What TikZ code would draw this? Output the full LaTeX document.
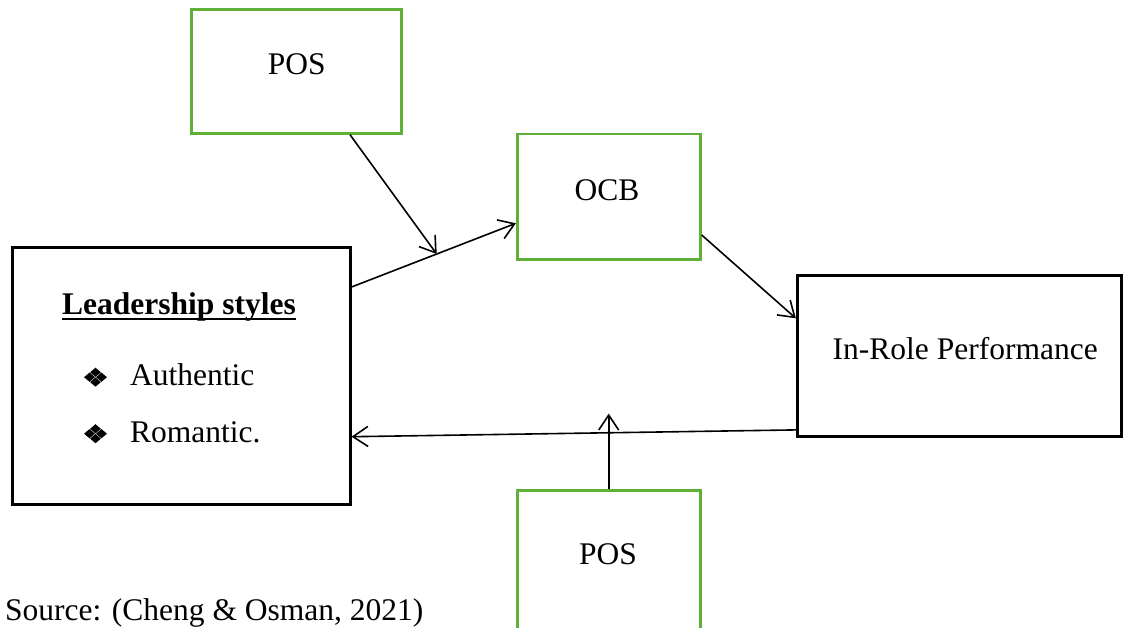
\documentclass[tikz,border=0pt]{standalone}
\usepackage{fontspec}
\setmainfont{Liberation Serif}
\usetikzlibrary{arrows.meta,calc}
\definecolor{boxgreen}{RGB}{94,177,54}
\newcommand\onedia[2]{\fill (#1-5.4,#2) -- (#1,#2-4.6) -- (#1+5.4,#2) -- (#1,#2+4.6) -- cycle;}
\newcommand\fourdia{\onedia{0}{-4.9}\onedia{-6.0}{0}\onedia{6.0}{0}\onedia{0}{4.9}}
\begin{document}
\begin{tikzpicture}[x=1pt,y=-1pt,
  every node/.style={font=\fontsize{31.5}{36}\selectfont},
  blackbox/.style={draw=black,line width=3pt,rectangle,inner sep=0pt},
  greenbox/.style={draw=boxgreen,line width=2.8pt,rectangle,inner sep=0pt},
  txt/.style={inner sep=0pt},
  conn/.style={line width=1.6pt,-{Straight Barb[length=15pt,width=20pt,line width=1.6pt]}}]
\clip (0,0) rectangle (1123,627);
% boxes
\node[blackbox,minimum width=337.7pt,minimum height=256.7pt] (lead) at (181.2,375.7) {};
\node[greenbox,minimum width=210pt,minimum height=123.6pt] (pos1) at (296.7,71.5) {};
\node[greenbox,minimum width=183pt,minimum height=125.3pt] (ocb) at (608.8,196.7) {};
\node[blackbox,minimum width=323.7pt,minimum height=161.7pt] (ir) at (959.2,355.9) {};
\node[greenbox,minimum width=183pt,minimum height=149pt] (pos2) at (608.7,565.2) {};
% texts
\node[txt,anchor=base] (pos1t) at (296.7,74) {POS};
\node[txt,anchor=base] (ocbt) at (607,200) {OCB};
\node[txt,anchor=base west] (irt) at (832.5,359) {In-Role Performance};
\node[txt,anchor=base] (pos2t) at (608,564) {POS};
\node[txt,anchor=base west] (lsty) at (62,314) {\textbf{Leadership styles}};
\draw[line width=2.4pt] ([yshift=-5pt]lsty.base west) -- ([yshift=-5pt]lsty.base east);
\node[txt,anchor=base west] (auth) at (130,385.7) {Authentic};
\node[txt,anchor=base west] (roman) at (130,442.3) {Romantic.};
\begin{scope}[shift={(95.5,377.2)}]\fourdia\end{scope}
\begin{scope}[shift={(95.5,433.7)}]\fourdia\end{scope}
\node[txt,anchor=base west] (src) at (5,620) {Source: (Cheng \& Osman, 2021)};
% connectors
\coordinate (ls) at ([yshift=88.7pt]lead.east);
\coordinate (le) at ([yshift=-26.6pt]ocb.west);
\coordinate (m1) at ($(ls)!0.518!(le)$);
\draw[conn] (ls) -- (le);
\draw[conn] ([xshift=53.3pt]pos1.south) -- (m1);
\draw[conn] ([yshift=-38.3pt]ocb.east) -- ([yshift=37.6pt]ir.west);
\draw[conn] ([yshift=-74pt]ir.west) -- ([yshift=-61pt]lead.east);
\draw[conn] (pos2.north) -- ([yshift=75.7pt]pos2.north);
\end{tikzpicture}
\end{document}
